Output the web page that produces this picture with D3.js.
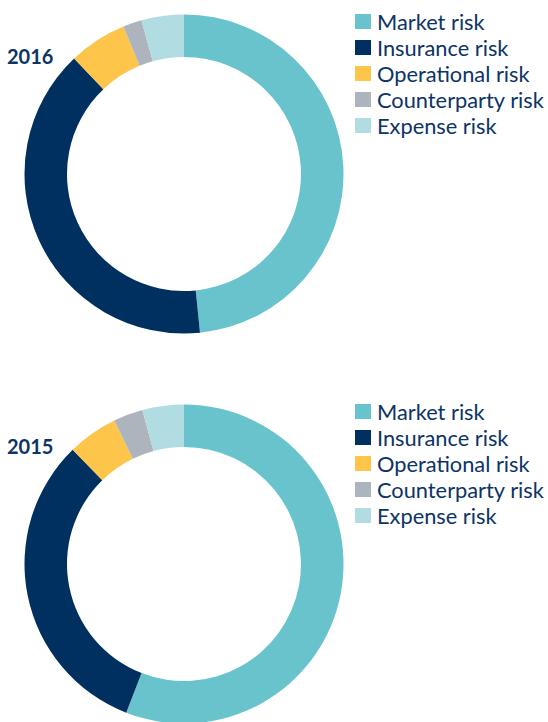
<!DOCTYPE html>
<html>
<head>
<meta charset="utf-8">
<script src="https://cdn.jsdelivr.net/npm/d3@7"></script>
<style>
  html, body { margin: 0; padding: 0; background: #fff; }
  #chart { width: 548px; height: 722px; overflow: hidden; }
</style>
</head>
<body>
<div id="chart"></div>
<script>
// Risikoarten und Anteile (in %)
const categories = ["Market risk", "Insurance risk", "Operational risk", "Counterparty risk", "Expense risk"];
const years = ["2016", "2015"];
const values2016 = [48.4, 39.5, 5.9, 1.9, 4.3];
const values2015 = [55.9, 31.8, 5.1, 3.0, 4.2];
const colors = ["#69c3cc", "#00305f", "#fec54b", "#adb4bd", "#b1dde2"];

const width = 548;
const height = 722;
const textColor = "#0c3466";

const svg = d3.select("#chart").append("svg")
    .attr("width", width)
    .attr("height", height)
    .attr("viewBox", [0, 0, width, height]);

const color = d3.scaleOrdinal().domain(categories).range(colors);

const pie = d3.pie().sort(null).value(d => d.value);
const arc = d3.arc().innerRadius(117).outerRadius(159.5);

// Ein Donut pro Jahr
function drawDonut(year, values, top) {
    const g = svg.append("g").attr("transform", `translate(0,${top})`);
    const data = categories.map((c, i) => ({ category: c, value: values[i] }));

    g.append("g")
        .attr("transform", "translate(184,174)")
        .selectAll("path")
        .data(pie(data))
        .join("path")
        .attr("fill", d => color(d.data.category))
        .attr("d", arc);

    g.append("text")
        .attr("x", 7)
        .attr("y", 64)
        .attr("fill", textColor)
        .style("font", "bold 20px Lato, sans-serif")
        .text(year);

    // Legende
    const legend = g.append("g").attr("transform", "translate(355,14)")
        .selectAll("g")
        .data(categories)
        .join("g")
        .attr("transform", (d, i) => `translate(0,${i * 26})`);

    legend.append("rect")
        .attr("width", 16)
        .attr("height", 15)
        .attr("fill", d => color(d));

    legend.append("text")
        .attr("x", 22)
        .attr("y", 16)
        .attr("fill", textColor)
        .style("font", "21.8px Lato, sans-serif")
        .text(d => d);
}

drawDonut(years[0], values2016, 0);
drawDonut(years[1], values2015, 390);
</script>
</body>
</html>
